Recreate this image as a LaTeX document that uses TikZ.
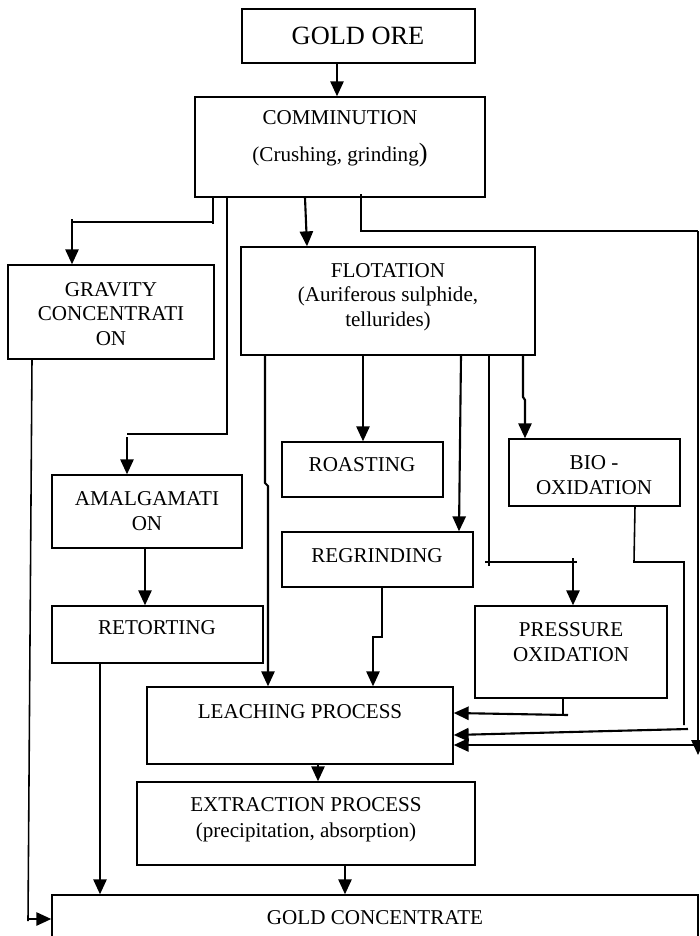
\documentclass[tikz,border=0pt]{standalone}
\usepackage{fontspec}
\setmainfont{Liberation Serif}
\usetikzlibrary{fit,arrows.meta}

\begin{document}
\begin{tikzpicture}[>={Triangle[length=8.5pt,width=7.5pt]}]
\tikzset{box/.style={draw=black,line width=0.8pt,inner sep=0pt}}
\tikzset{txt/.style={align=center,inner sep=0pt,font=\fontsize{12pt}{14pt}\selectfont}}
\tikzset{link/.style={draw=black,line width=0.9pt}}
\tikzset{flow/.style={draw=black,->,line width=1.2pt}}

\begin{scope}[x={(0.2mm,0mm)},y={(0mm,-0.2mm)}]
\useasboundingbox (0,0) rectangle (700,936);
\clip (0,0) rectangle (700,936);

% boxes
\node[box,fit={(242,9) (475,63)}] (ore) {};
\node[box,fit={(195,97) (485,197)}] (comm) {};
\node[box,fit={(8,265) (214,359)}] (grav) {};
\node[box,fit={(241,247) (535,355)}] (flot) {};
\node[box,fit={(52,475) (242,548)}] (amal) {};
\node[box,fit={(52,606) (263,663)}] (ret) {};
\node[box,fit={(282,442) (443,497)}] (roast) {};
\node[box,fit={(282,532) (473,587)}] (regr) {};
\node[box,fit={(509,439) (680,506)}] (bio) {};
\node[box,fit={(475,606) (667,698)}] (press) {};
\node[box,fit={(147,687) (453,764)}] (leach) {};
\node[box,fit={(137,782) (475,865)}] (extr) {};
\node[box,fit={(52,895) (698,945)}] (gold) {};

% texts
\node[txt,font=\fontsize{15pt}{18pt}\selectfont] (oretxt) at (358,36) {GOLD ORE};
\node[txt] (commtxt) at (340,139) {COMMINUTION\\[7pt](Crushing, grinding{\fontsize{15pt}{15pt}\selectfont)}};
\node[txt] (gravtxt) at (111,314) {GRAVITY\\CONCENTRATI\\ON};
\node[txt] (flottxt) at (388,297) {FLOTATION\\(Auriferous sulphide,\\tellurides)};
\node[txt] (amaltxt) at (147,511) {AMALGAMATI\\ON};
\node[txt] (rettxt) at (157,628) {RETORTING};
\node[txt] (roasttxt) at (362,465) {ROASTING};
\node[txt] (regrtxt) at (377,556) {REGRINDING};
\node[txt] (biotxt) at (594,475) {BIO -\\OXIDATION};
\node[txt] (presstxt) at (571,642) {PRESSURE\\OXIDATION};
\node[txt] (leachtxt) at (300,712) {LEACHING PROCESS};
\node[txt] (extrtxt) at (306,820) {EXTRACTION PROCESS\\[1pt](precipitation, absorption)};
\node[txt] (goldtxt) at (375,918) {GOLD CONCENTRATE};

% connectors
\path[flow] (337,0 |- ore.south) -- (337,0 |- comm.north);
\path[link] (213,0 |- comm.south) -- (213,224) (213,222) -- (72,222);
\path[flow] (72,219) -- (72,0 |- grav.north);
\path[link] (227,0 |- comm.south) -- (227,434) -- (127,434);
\path[flow] (127,437) -- (127,0 |- amal.north);
\path[flow] (305,0 |- comm.south) -- (307,0 |- flot.north);
\path[link] (361,194) -- (361,231) -- (698,231);
\path[flow] (698,231) -- (698,755);
\path[flow] (698,745) -- (leach.east |- 0,745);
\path[link] (32,0 |- grav.south) -- (28,921);
\path[flow] (28,919) -- (gold.west |- 0,919);
\path[flow] (145,0 |- amal.south) -- (145,0 |- ret.north);
\path[flow] (100,0 |- ret.south) -- (100,0 |- gold.north);
\path[flow] (265,0 |- flot.south) -- (265,483) -- (268,486) -- (268,0 |- leach.north);
\path[flow] (363,0 |- flot.south) -- (363,0 |- roast.north);
\path[flow] (461,0 |- flot.south) -- (459,0 |- regr.north);
\path[link] (489,0 |- flot.south) -- (489,566) (485,562) -- (577,562);
\path[flow] (573,558) -- (573,0 |- press.north);
\path[flow] (523,0 |- flot.south) -- (523,397) -- (525,400) -- (525,0 |- bio.north);
\path[link] (635,0 |- bio.south) -- (634,562) -- (684,562) -- (684,725);
\path[flow] (688,729) -- (leach.east |- 0,735);
\path[link] (563,0 |- press.south) -- (563,716);
\path[flow] (568,715) -- (leach.east |- 0,713);
\path[flow] (382,0 |- regr.south) -- (382,637) -- (373,637) -- (373,0 |- leach.north);
\path[flow] (318,0 |- leach.south) -- (318,0 |- extr.north);
\path[flow] (345,0 |- extr.south) -- (345,0 |- gold.north);

\end{scope}
\end{tikzpicture}
\end{document}
